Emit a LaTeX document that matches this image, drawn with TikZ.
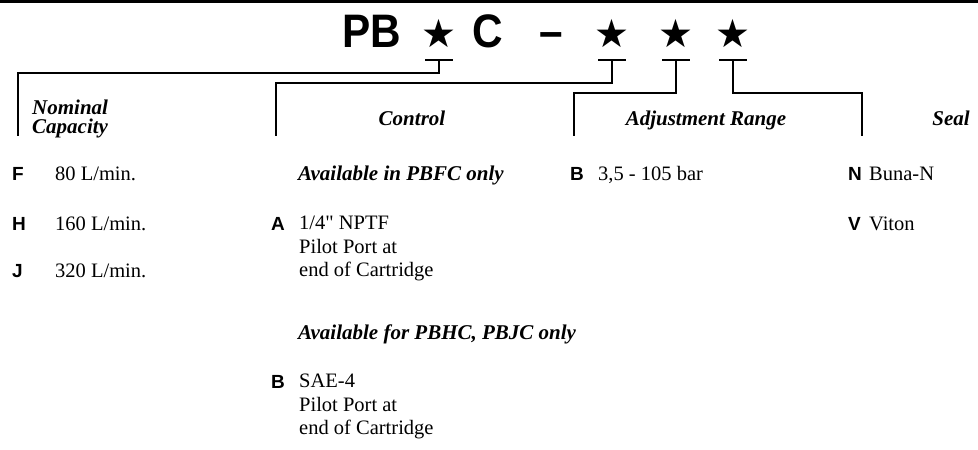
\documentclass[tikz,border=0pt]{standalone}
\usepackage{fontspec}
\setmainfont{Liberation Serif}
\setsansfont{Liberation Sans}
\newfontfamily\starfont{DejaVu Sans}
\newfontfamily\codefont[FakeStretch=0.9]{Liberation Sans}
\usepackage{tikz}

\begin{document}
\begin{tikzpicture}[
  x=1pt, y=-1pt,
  code/.style={font=\codefont\bfseries\fontsize{47}{47}\selectfont,
    anchor=base, inner sep=0pt},
  starsym/.style={font=\starfont\fontsize{39}{39}\selectfont,
    anchor=base, inner sep=0pt},
  head/.style={font=\bfseries\itshape\fontsize{21}{19}\selectfont,
    align=left, anchor=base, inner sep=0pt},
  sub/.style={font=\bfseries\itshape\fontsize{21}{23.5}\selectfont,
    anchor=base west, inner sep=0pt},
  key/.style={font=\sffamily\bfseries\fontsize{19}{23.5}\selectfont,
    anchor=base west, inner sep=0pt},
  val/.style={font=\fontsize{20.5}{23.5}\selectfont, align=left,
    anchor=base west, inner sep=0pt},
  link/.style={line width=2.8pt, line join=miter},
  tee/.style={line width=2.8pt},
]
\useasboundingbox (0,0) rectangle (978,450);
\draw[line width=3pt] (0,1.5) -- (978,1.5);

% ordering code
\node[code]    (pb) at (372,47.5) {PB};
\node[starsym] (s1) at (439,47.5) {★};
\node[code]    (cc) at (488,47.5) {C};
\node[code]    (hy) at (551,47.5) {–};
\node[starsym] (s2) at (612,47.5) {★};
\node[starsym] (s3) at (676,47.5) {★};
\node[starsym] (s4) at (733,47.5) {★};

% column headings
\node[head, anchor=north west] (hcap) at (32,99.5) {Nominal\\Capacity};
\node[head] (hctl)  at (412,125) {Control};
\node[head] (hadj)  at (706,125) {Adjustment Range};
\node[head] (hseal) at (951,125) {Seal};

\coordinate (f1) at (18,136);
\coordinate (f2) at (276,136);
\coordinate (f3) at (574,136);
\coordinate (f4) at (862,136);
\foreach \i in {1,...,4}
  \coordinate (t\i) at (s\i |- 0,60);
\foreach \i/\drop in {1/13, 2/23, 3/33, 4/33} {
  \draw[tee] ([xshift=-14pt]t\i) -- ([xshift=14pt]t\i);
  \draw[link] (t\i) -- ++(0,\drop) -| (f\i);
}

% nominal capacity
\node[key] (kF) at (12,180) {F};
\node[val] (vF) at (55,180) {80 L/min.};
\node[key] (kH) at (12,230) {H};
\node[val] (vH) at (55,230) {160 L/min.};
\node[key] (kJ) at (12,277) {J};
\node[val] (vJ) at (55,277) {320 L/min.};

% control
\node[sub] (avA) at (298,180) {Available in PBFC only};
\node[key] (kA) at (271,230) {A};
\node[val, anchor=north west] (vA) at (299,215.8)
  {1/4\textquotedbl{} NPTF\\Pilot Port at\\end of Cartridge};
\node[sub] (avB) at (298,339) {Available for PBHC, PBJC only};
\node[key] (kB) at (271,388) {B};
\node[val, anchor=north west] (vB) at (299,374.1)
  {SAE-4\\Pilot Port at\\end of Cartridge};

% adjustment range
\node[key] (kR) at (570,180) {B};
\node[val] (vR) at (598,180) {3,5 - 105 bar};

% seal
\node[key] (kN) at (848,180) {N};
\node[val] (vN) at (869,180) {Buna-N};
\node[key] (kV) at (848,230) {V};
\node[val] (vV) at (869,230) {Viton};
\end{tikzpicture}
\end{document}
